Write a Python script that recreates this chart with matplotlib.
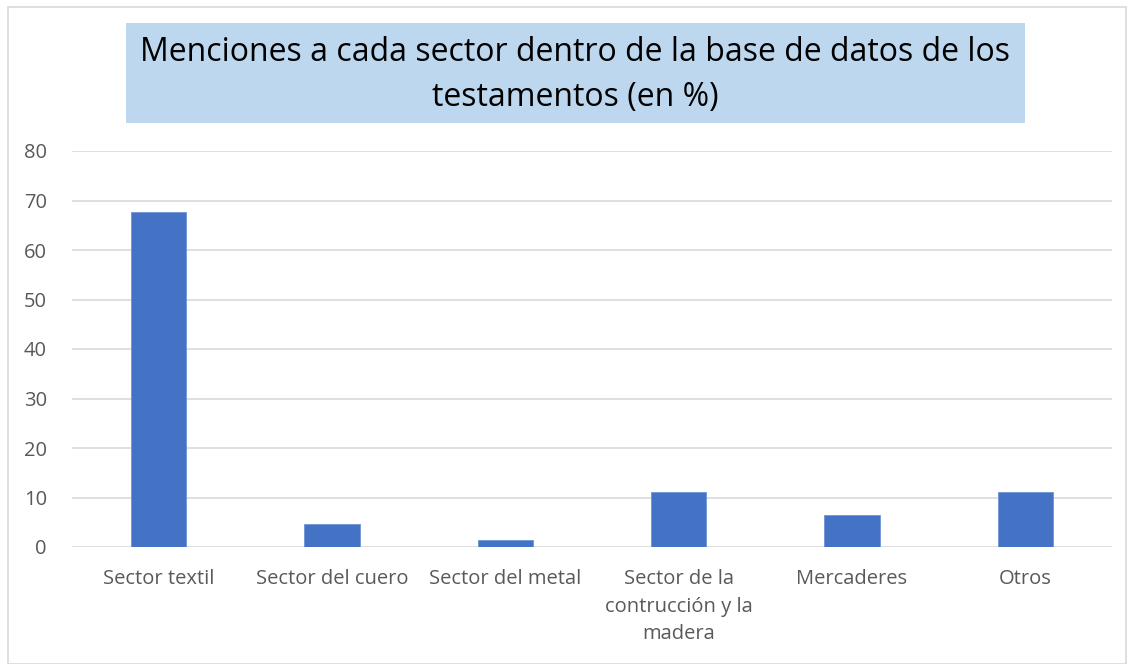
import matplotlib.pyplot as plt
import matplotlib.patches as mpatches

categories = ['Sector textil', 'Sector del cuero', 'Sector del metal',
              'Sector de la\ncontrucción y la\nmadera', 'Mercaderes', 'Otros']
values = [67.7, 4.7, 1.4, 11.1, 6.4, 11.1]
yticks = [0, 10, 20, 30, 40, 50, 60, 70, 80]
title = 'Menciones a cada sector dentro de la base de datos de los\ntestamentos (en %)'

plt.rcParams['font.family'] = ['Open Sans', 'DejaVu Sans']

fig = plt.figure(figsize=(11.34, 6.64), dpi=100)
ax = fig.add_axes([72 / 1134, 1 - 547 / 664, (1112 - 72) / 1134, (547 - 151) / 664])

# outer frame of the chart area
fig.patches.append(mpatches.Rectangle((8 / 1134, 0), 1 - 16 / 1134, 1 - 7 / 664,
                                      transform=fig.transFigure, fill=False,
                                      edgecolor='#d9d9d9', linewidth=1.2))

x = range(len(categories))
ax.bar(x, values, width=0.32, color='#4472c4', edgecolor='#6f94d6', linewidth=0.6, zorder=3)

ax.set_xlim(-0.5, len(categories) - 0.5)
ax.set_ylim(0, 80)
ax.set_yticks(yticks)
ax.set_xticks(list(x))
ax.set_xticklabels(categories, fontsize=14.5, color='#595959', linespacing=1.5)
ax.tick_params(axis='y', labelsize=14.5, colors='#595959', length=0, pad=18)
ax.tick_params(axis='x', length=0, pad=16)
ax.grid(axis='y', color='#d9d9d9', linewidth=1.2, zorder=0)
for s in ax.spines.values():
    s.set_visible(False)

# title with light blue box
fig.patches.append(mpatches.Rectangle((126 / 1134, 1 - 123 / 664), (1025 - 126) / 1134, 100 / 664,
                                      transform=fig.transFigure, facecolor='#bdd7ee',
                                      edgecolor='none'))
fig.text(575 / 1134, 1 - 75 / 664, title, ha='center', va='center',
         fontsize=23, color='black', linespacing=1.45)

plt.savefig('out.png', dpi=100)
